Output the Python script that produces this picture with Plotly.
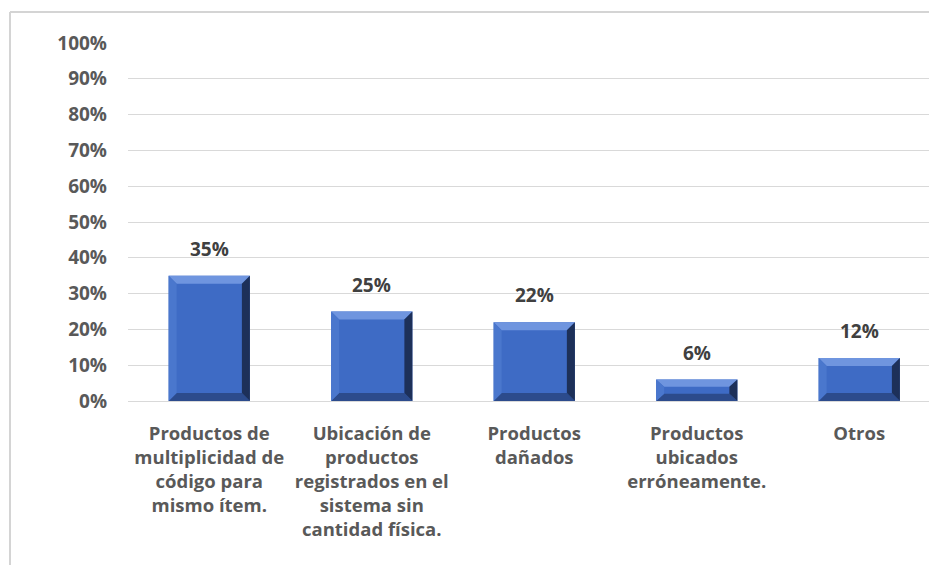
import plotly.graph_objects as go

# Categories and their shares
categorias = [
    "Productos de<br>multiplicidad de<br>código para<br>mismo ítem.",
    "Ubicación de<br>productos<br>registrados en el<br>sistema sin<br>cantidad física.",
    "Productos<br>dañados",
    "Productos<br>ubicados<br>erróneamente.",
    "Otros",
]
valores = [0.35, 0.25, 0.22, 0.06, 0.12]
etiquetas_y = ["0%", "10%", "20%", "30%", "40%", "50%", "60%", "70%", "80%", "90%", "100%"]
ticks_y = [i / 10 for i in range(11)]

W, H = 929, 565
ML, MR, MT, MB = 128, 0, 43, 164
plot_w = W - ML - MR
cat_px = 162.5
x_max = -0.5 + plot_w / cat_px
y_px = (H - MT - MB)  # pixels for range 0..1

FONT = "Open Sans"
GRIS = "#595959"

ancho = 0.5
x = list(range(len(categorias)))

fig = go.Figure()
fig.add_trace(go.Bar(
    x=x, y=valores, width=ancho,
    marker=dict(color="#3e6bc5", line=dict(width=0)),
    hoverinfo="skip",
))

# Bevel faces around each bar (in data coordinates)
dx = 8 / cat_px
dy_full = 8 / y_px
shapes = []
for xi, v in zip(x, valores):
    x0, x1 = xi - ancho / 2, xi + ancho / 2
    dy = min(dy_full, v / 3)
    caras = [
        # top
        ([(x0, v), (x1, v), (x1 - dx, v - dy), (x0 + dx, v - dy)], "#6f95df"),
        # bottom
        ([(x0, 0), (x1, 0), (x1 - dx, dy), (x0 + dx, dy)], "#2c4b8c"),
        # left
        ([(x0, 0), (x0, v), (x0 + dx, v - dy), (x0 + dx, dy)], "#4a77cd"),
        # right
        ([(x1, 0), (x1, v), (x1 - dx, v - dy), (x1 - dx, dy)], "#1d3059"),
    ]
    for pts, col in caras:
        path = "M " + " L ".join(f"{px},{py}" for px, py in pts) + " Z"
        shapes.append(dict(type="path", path=path, xref="x", yref="y",
                           fillcolor=col, line=dict(width=0), layer="above"))

# Chart-area border (left and top edges)
bx = (10 - ML) / plot_w
by = (H - MB - 12) / (H - MT - MB)
shapes.append(dict(type="line", xref="paper", yref="paper", x0=bx, x1=1.2, y0=by, y1=by,
                   line=dict(color="#d4d4d4", width=2)))
shapes.append(dict(type="line", xref="paper", yref="paper", x0=bx, x1=bx, y0=by, y1=-1.0,
                   line=dict(color="#d4d4d4", width=2)))

annotations = []
for xi, v in zip(x, valores):
    annotations.append(dict(x=xi, y=v, xref="x", yref="y", text=f"{round(v*100)}%",
                            showarrow=False, yanchor="bottom", yshift=12,
                            font=dict(family=FONT, size=19, color="#404040", weight="bold")))

fig.update_layout(
    width=W, height=H,
    margin=dict(l=ML, r=MR, t=MT, b=MB, pad=0),
    paper_bgcolor="white", plot_bgcolor="white",
    showlegend=False,
    shapes=shapes,
    annotations=annotations,
    font=dict(family=FONT, size=18, color=GRIS),
    xaxis=dict(
        tickmode="array", tickvals=x, ticktext=categorias,
        range=[-0.5, x_max], showgrid=False, zeroline=False,
        showline=False, ticks="", ticklen=0, ticklabelstandoff=19,
        tickfont=dict(family=FONT, size=18.5, color=GRIS, weight="bold"),
    ),
    yaxis=dict(
        range=[0, 1.0], tickvals=ticks_y, ticktext=etiquetas_y,
        showgrid=True, gridcolor="#d9d9d9", gridwidth=1,
        zeroline=True, zerolinecolor="#d9d9d9", zerolinewidth=1,
        showline=False, ticks="", ticklabelstandoff=20,
        tickfont=dict(family=FONT, size=19, color=GRIS, weight="bold"),
    ),
    bargap=0.5,
)

fig.write_html("out.html")
